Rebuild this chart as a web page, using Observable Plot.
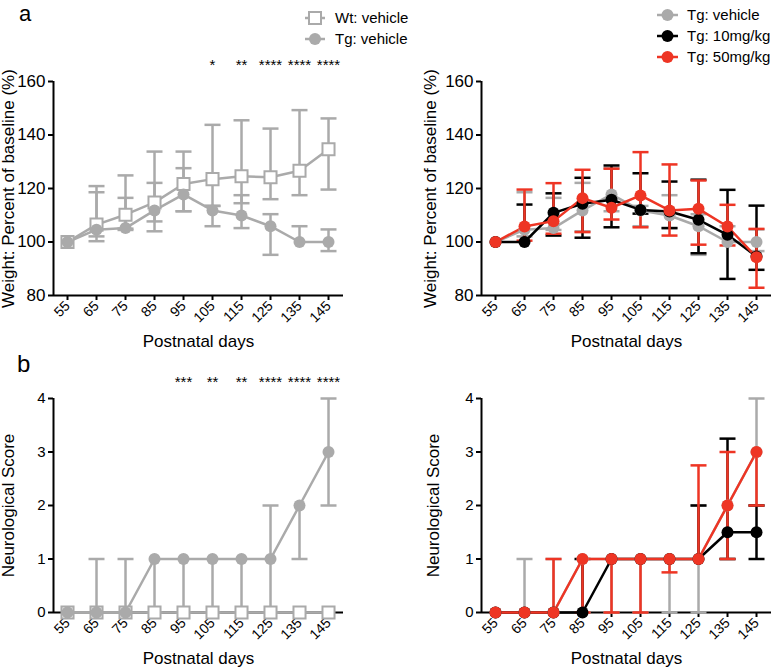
<!DOCTYPE html>
<html>
<head>
<meta charset="utf-8">
<script src="https://cdn.jsdelivr.net/npm/d3@7"></script>
<script src="https://cdn.jsdelivr.net/npm/@observablehq/plot@0.6"></script>
<style>
  html, body { margin: 0; padding: 0; background: white; }
  #wrap { position: relative; width: 772px; height: 669px; overflow: hidden; font-family: "Liberation Sans", Arial, sans-serif; }
  #wrap svg { position: absolute; }
</style>
</head>
<body>
<div id="wrap"></div>
<script>
// ---------- data ----------
const days = [55, 65, 75, 85, 95, 105, 115, 125, 135, 145];

// Weight (% of baseline)
const wtVehWeight   = [100, 106.5, 110.2, 114.8, 121.7, 123.5, 124.6, 124.2, 126.6, 134.7];
const wtVehWeightLo = [100, 100.3, 105.0, 107.7, 111.5, 113.5, 114.5, 116.0, 117.5, 119.6];
const wtVehWeightHi = [100, 120.9, 124.9, 133.8, 133.8, 143.8, 145.5, 142.4, 149.3, 146.2];

const tgVehWeight   = [100, 104.6, 105.2, 111.8, 117.8, 111.8, 109.9, 105.9, 100, 100];
const tgVehWeightLo = [100, 102.1, 104.5, 104.0, 111.5, 105.9, 105.2, 95.2, 100, 96.6];
const tgVehWeightHi = [100, 118.6, 116.5, 122.1, 127.6, 113.5, 117.5, 110.4, 105.9, 104.7];

const tg10Weight    = [100, 100, 110.9, 114.3, 115.8, 112.0, 111.4, 108.3, 102.7, 94.6];
const tg10WeightLo  = [100, 100, 102.4, 101.6, 105.5, 110.6, 105.2, 95.8, 86.2, 89.6];
const tg10WeightHi  = [100, 114.0, 118.2, 124.0, 128.6, 125.7, 122.6, 123.3, 119.5, 113.6];

const tg50Weight    = [100, 105.8, 107.8, 116.4, 112.8, 117.4, 111.8, 112.4, 105.8, 94.3];
const tg50WeightLo  = [100, 100.5, 103.1, 103.7, 108.4, 105.5, 102.4, 99.0, 98.7, 82.9];
const tg50WeightHi  = [100, 119.6, 122.0, 127.0, 127.4, 133.6, 129.0, 123.0, 113.9, 104.9];

// Neurological score
const wtVehNeuro    = [0, 0, 0, 0, 0, 0, 0, 0, 0, 0];
const tgVehNeuro    = [0, 0, 0, 1, 1, 1, 1, 1, 2, 3];
const tgVehNeuroLo  = [0, 0, 0, 0, 0, 0, 0, 0, 1, 2];
const tgVehNeuroHi  = [0, 1, 1, 1, 1, 1, 1, 2, 2, 4];
const tg10Neuro     = [0, 0, 0, 0, 1, 1, 1, 1, 1.5, 1.5];
const tg10NeuroLo   = [0, 0, 0, 0, 1, 1, 1, 1, 1, 1];
const tg10NeuroHi   = [0, 0, 0, 1, 1, 1, 1, 2, 3.25, 2];
const tg50Neuro     = [0, 0, 0, 1, 1, 1, 1, 1, 2, 3];
const tg50NeuroLo   = [0, 0, 0, 0, 0, 0, 0.75, 1, 1, 2];
const tg50NeuroHi   = [0, 0, 1, 1, 1, 1, 1, 2.75, 3, 3];

// significance labels
const weightStarDays = [105, 115, 125, 135, 145];
const weightStars    = ["*", "**", "****", "****", "****"];
const neuroStarDays  = [95, 105, 115, 125, 135, 145];
const neuroStars     = ["***", "**", "**", "****", "****", "****"];

const weightTicks = [80, 100, 120, 140, 160];
const neuroTicks  = [0, 1, 2, 3, 4];

// ---------- styles ----------
const GREY = "#aaaaaa";
const BLACK = "#000000";
const RED = "#ee3524";
const FONT = "'Liberation Sans', Arial, sans-serif";
const X_DOMAIN = [50.17, 150.17];

const capSymbol = {
  draw(context, size) {
    const r = Math.sqrt(size / Math.PI);
    context.moveTo(-r, 0);
    context.lineTo(r, 0);
  }
};

function seriesRows(values, lo, hi) {
  return days.map((d, i) => ({ day: d, v: values[i], lo: lo ? lo[i] : values[i], hi: hi ? hi[i] : values[i] }));
}

function panel(o) {
  const bars = [], lines = [], dots = [];
  for (const s of o.series) {
    const rows = seriesRows(s.values, s.lo, s.hi);
    bars.push(Plot.ruleX(rows.filter(d => d.hi !== d.lo), { x: "day", y1: "lo", y2: "hi", stroke: s.color, strokeWidth: 2.5 }));
    const caps = rows.flatMap(d => [
      d.hi !== d.v ? { day: d.day, y: d.hi } : null,
      d.lo !== d.v ? { day: d.day, y: d.lo } : null
    ]).filter(Boolean);
    bars.push(Plot.dot(caps, { x: "day", y: "y", symbol: capSymbol, r: 8, stroke: s.color, strokeWidth: 2.5, fill: "none" }));
    lines.push(Plot.line(rows, { x: "day", y: "v", stroke: s.color, strokeWidth: 2.5 }));
    if (s.symbol === "square") {
      dots.push(Plot.dot(rows, { x: "day", y: "v", symbol: "square", r: 6.8, fill: "white", stroke: s.color, strokeWidth: 2 }));
    } else {
      dots.push(Plot.dot(rows, { x: "day", y: "v", symbol: "circle", r: 6, fill: s.color, stroke: "none" }));
    }
  }
  const marks = [
    Plot.ruleY([o.yDomain[0]], { stroke: BLACK, strokeWidth: 2 }),
    Plot.ruleX([X_DOMAIN[0]], { stroke: BLACK, strokeWidth: 2 }),
    Plot.axisY({ ticks: o.yTicks, tickFormat: d3.format("d"), tickSize: 5, tickPadding: 3, fontSize: o.yFont, strokeWidth: 2, label: null }),
    Plot.axisX({ ticks: days, tickFormat: d3.format("d"), tickRotate: -45, tickSize: 5, tickPadding: 3, fontSize: 14, strokeWidth: 2, label: null }),
    Plot.text(["Postnatal days"], { frameAnchor: "bottom", dy: o.xLabelDy, fontSize: 17, lineAnchor: "bottom", textAnchor: "middle" }),
    Plot.text([o.yLabel], { frameAnchor: "left", rotate: -90, dx: o.yLabelDx, fontSize: 17, lineAnchor: "middle", textAnchor: "middle" }),
    ...bars, ...lines, ...dots
  ];
  if (o.stars) {
    const starRows = o.stars.days.map((d, i) => ({ day: d, label: o.stars.labels[i] }));
    marks.push(Plot.text(starRows, { x: "day", y: () => o.stars.y, text: "label", fontSize: 15, fill: BLACK }));
  }
  const svg = Plot.plot({
    width: o.width, height: o.height,
    marginLeft: o.mL, marginRight: o.mR, marginTop: o.mT, marginBottom: o.mB,
    x: { domain: X_DOMAIN },
    y: { domain: o.yDomain },
    style: { fontFamily: FONT, background: "transparent", color: BLACK, overflow: "visible" },
    marks
  });
  svg.style.left = o.left + "px";
  svg.style.top = o.top + "px";
  return svg;
}

const wrap = document.getElementById("wrap");

const topCommon = { top: 0, width: 386, height: 350, mT: 81, mB: 55, yDomain: [80, 160], yTicks: weightTicks, yFont: 17, yLabel: "Weight: Percent of baseline (%)", xLabelDy: 51 };
const botCommon = { top: 350, width: 386, height: 319, mT: 48, mB: 57, yDomain: [0, 4], yTicks: neuroTicks, yFont: 15, yLabel: "Neurological Score", xLabelDy: 51 };

wrap.appendChild(panel({
  ...topCommon, left: 0, mL: 53, mR: 43, yLabelDx: -45,
  series: [
    { values: wtVehWeight, lo: wtVehWeightLo, hi: wtVehWeightHi, color: GREY, symbol: "square" },
    { values: tgVehWeight, lo: tgVehWeightLo, hi: tgVehWeightHi, color: GREY, symbol: "circle" }
  ],
  stars: { days: weightStarDays, labels: weightStars, y: 166.2 }
}));

wrap.appendChild(panel({
  ...topCommon, left: 386, mL: 95, mR: 1, yLabelDx: -51,
  series: [
    { values: tgVehWeight, lo: tgVehWeightLo, hi: tgVehWeightHi, color: GREY, symbol: "circle" },
    { values: tg10Weight, lo: tg10WeightLo, hi: tg10WeightHi, color: BLACK, symbol: "circle" },
    { values: tg50Weight, lo: tg50WeightLo, hi: tg50WeightHi, color: RED, symbol: "circle" }
  ]
}));

wrap.appendChild(panel({
  ...botCommon, left: 0, mL: 53, mR: 43, yLabelDx: -45,
  series: [
    { values: wtVehNeuro, color: GREY, symbol: "square" },
    { values: tgVehNeuro, lo: tgVehNeuroLo, hi: tgVehNeuroHi, color: GREY, symbol: "circle" }
  ],
  stars: { days: neuroStarDays, labels: neuroStars, y: 4.3 }
}));

wrap.appendChild(panel({
  ...botCommon, left: 386, mL: 95, mR: 1, yLabelDx: -48,
  series: [
    { values: tgVehNeuro, lo: tgVehNeuroLo, hi: tgVehNeuroHi, color: GREY, symbol: "circle" },
    { values: tg10Neuro, lo: tg10NeuroLo, hi: tg10NeuroHi, color: BLACK, symbol: "circle" },
    { values: tg50Neuro, lo: tg50NeuroLo, hi: tg50NeuroHi, color: RED, symbol: "circle" }
  ]
}));

// ---------- legends & panel letters ----------
const overlay = d3.create("svg").attr("width", 772).attr("height", 669)
  .style("left", "0px").style("top", "0px").style("pointer-events", "none")
  .attr("font-family", FONT);

function legend(items, x1, x2, tx) {
  for (const it of items) {
    const g = overlay.append("g");
    g.append("line").attr("x1", x1).attr("x2", x2).attr("y1", it.y).attr("y2", it.y)
      .attr("stroke", it.color).attr("stroke-width", 2.5);
    const cx = (x1 + x2) / 2;
    if (it.symbol === "square") {
      g.append("rect").attr("x", cx - 6).attr("y", it.y - 6).attr("width", 12).attr("height", 12)
        .attr("fill", "white").attr("stroke", it.color).attr("stroke-width", 2);
    } else {
      g.append("circle").attr("cx", cx).attr("cy", it.y).attr("r", 6).attr("fill", it.color);
    }
    g.append("text").attr("x", tx).attr("y", it.y).attr("dy", "0.35em")
      .attr("font-size", 15).attr("fill", BLACK).text(it.label);
  }
}
legend([
  { label: "Wt: vehicle", color: GREY, symbol: "square", y: 18 },
  { label: "Tg: vehicle", color: GREY, symbol: "circle", y: 39 }
], 305, 325, 335);
legend([
  { label: "Tg: vehicle", color: GREY, symbol: "circle", y: 15 },
  { label: "Tg: 10mg/kg", color: BLACK, symbol: "circle", y: 36 },
  { label: "Tg: 50mg/kg", color: RED, symbol: "circle", y: 57 }
], 657, 678, 687);

overlay.append("text").attr("x", 19).attr("y", 21).attr("font-size", 22).text("a");
overlay.append("text").attr("x", 17).attr("y", 372).attr("font-size", 24).text("b");

wrap.appendChild(overlay.node());
</script>
</body>
</html>
